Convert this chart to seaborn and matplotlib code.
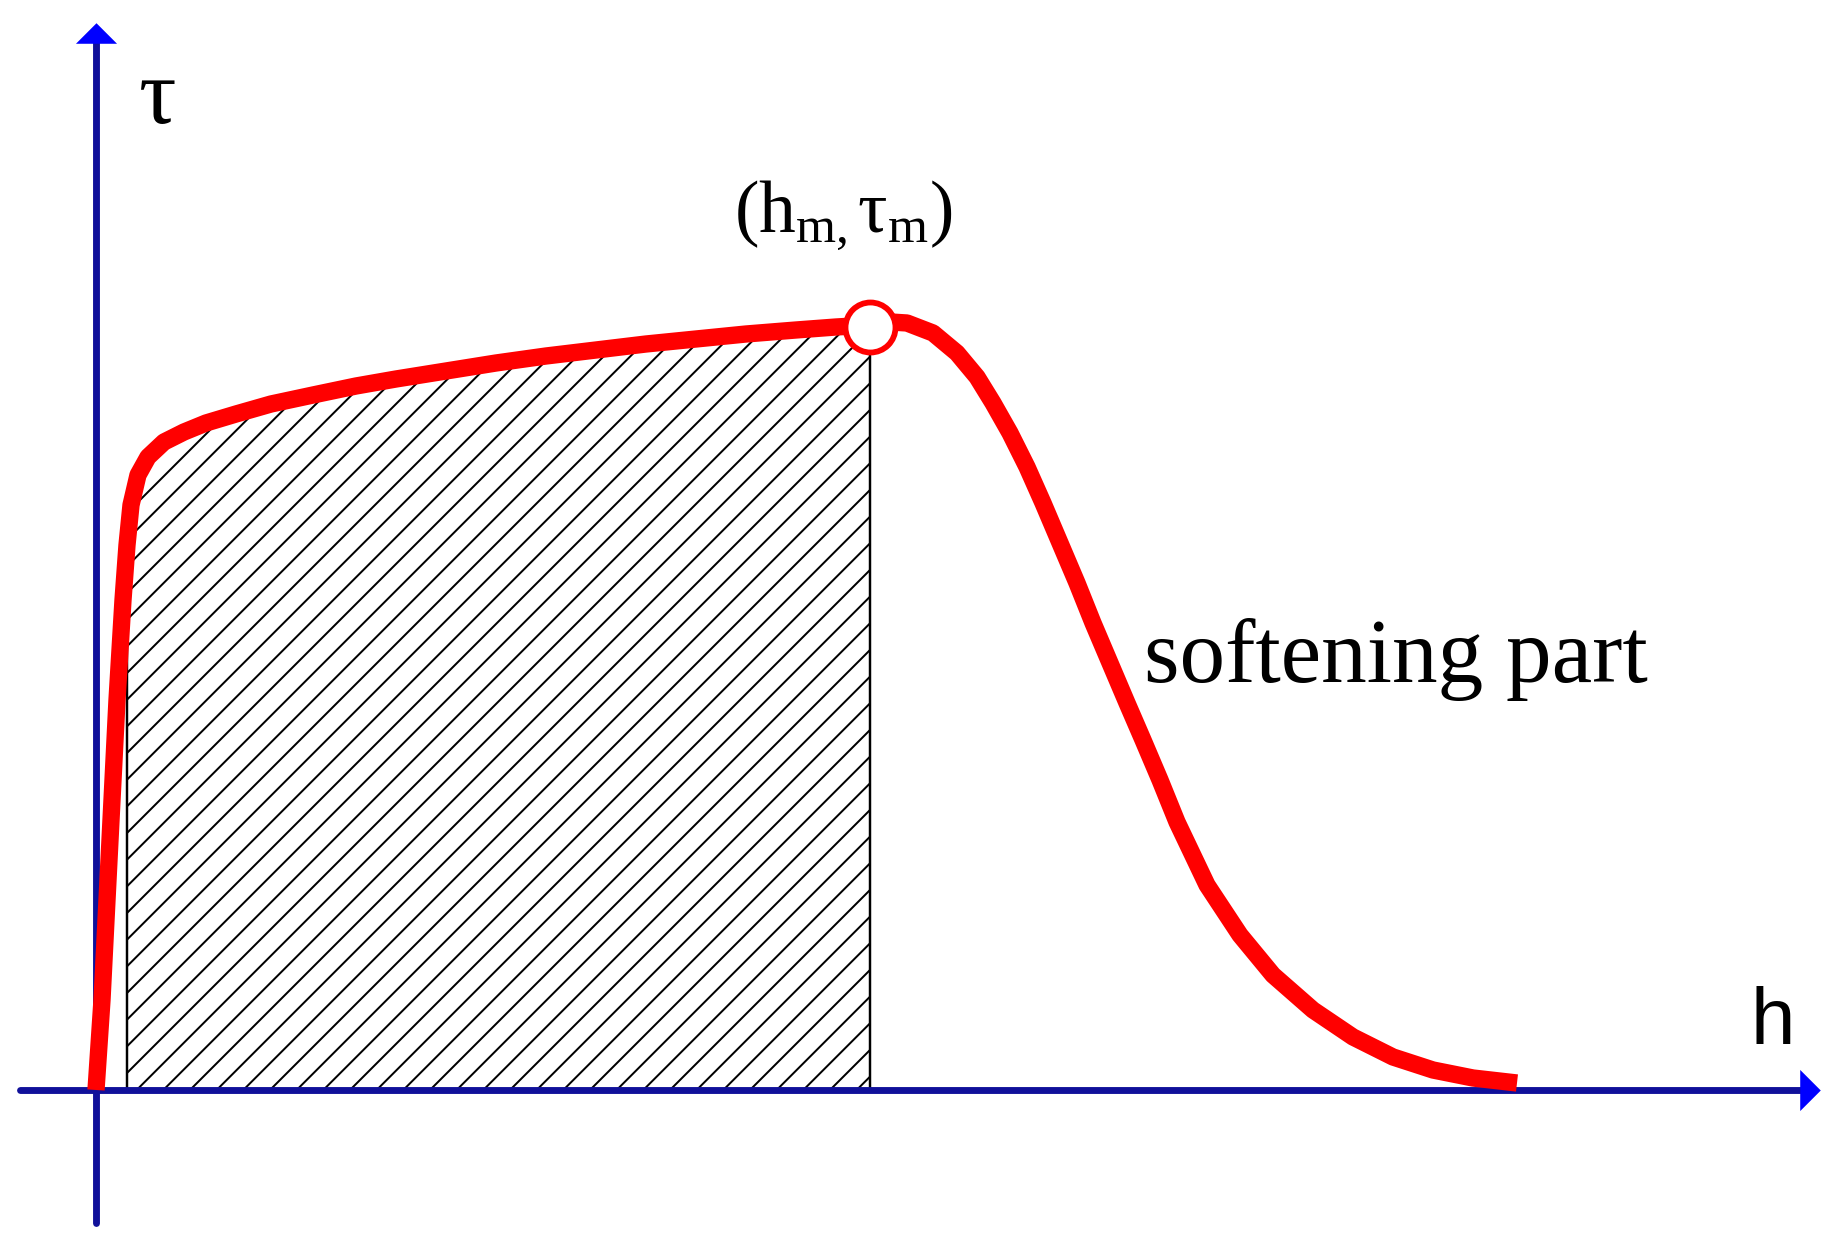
import numpy as np
import matplotlib
matplotlib.use('Agg')
import matplotlib.pyplot as plt
import seaborn as sns

# shear stress - displacement curve (arbitrary units)
h_values = [0.00, 0.06, 0.13, 0.21, 0.27, 0.31, 0.35, 0.42, 0.52, 0.68, 0.88,
            1.10, 1.40, 1.75, 2.17, 2.60, 3.00, 3.50, 4.00, 4.50, 5.00, 5.50,
            6.00, 6.50, 7.00, 7.40, 7.74,
            7.95, 8.11, 8.37, 8.61, 8.81, 8.97, 9.14, 9.31, 9.47, 9.64, 9.81,
            9.97, 10.14, 10.31, 10.47, 10.64, 10.81, 11.11, 11.44, 11.77, 12.17,
            12.57, 12.97, 13.37, 13.77, 14.21]
tau_values = [0.00, 0.90, 2.30, 3.90, 4.90, 5.45, 5.85, 6.15, 6.33, 6.48, 6.58,
              6.67, 6.76, 6.86, 6.95, 7.04, 7.11, 7.19, 7.27, 7.34, 7.40, 7.46,
              7.51, 7.56, 7.60, 7.63, 7.65,
              7.68, 7.67, 7.57, 7.37, 7.13, 6.87, 6.57, 6.23, 5.87, 5.47, 5.07,
              4.67, 4.27, 3.87, 3.50, 3.10, 2.68, 2.05, 1.55, 1.15, 0.80,
              0.53, 0.33, 0.20, 0.12, 0.07]

# peak point and the hatched zone limits
peak_h = 7.74
peak_tau = 7.63
hatch_start = 0.31
hatch_end = 7.74

peak_label = r'$\mathrm{(h_{m,}τ_{m})}$'
softening_label = 'softening part'
x_label = 'h'
y_label = 'τ'

AXIS_BLUE = '#10109a'
HEAD_BLUE = '#0000ff'


def main():
    sns.set_theme(style='white')
    plt.rcParams['mathtext.fontset'] = 'custom'
    plt.rcParams['mathtext.rm'] = 'Liberation Serif'
    plt.rcParams['mathtext.it'] = 'Liberation Serif:italic'
    plt.rcParams['hatch.color'] = 'black'
    plt.rcParams['hatch.linewidth'] = 0.9

    fig = plt.figure(figsize=(11.5, 7.84375), dpi=160)
    ax = fig.add_axes([0, 0, 1, 1])
    ax.set_xlim(-0.96, 17.44)
    ax.set_ylim(-1.65, 10.90)
    ax.set_axis_off()

    h = np.array(h_values)
    tau = np.array(tau_values)

    "hatched area under the curve up to the peak"
    mask = (h >= hatch_start) & (h <= hatch_end)
    ax.fill_between(h[mask], 0, tau[mask], facecolor='none', edgecolor='black',
                    hatch='//', linewidth=1.1, zorder=1)

    "coordinate axes with arrow heads"
    ax.plot([-0.76, 17.09], [0, 0], color=AXIS_BLUE, lw=3.1, zorder=2)
    ax.plot([0, 0], [-1.33, 10.50], color=AXIS_BLUE, lw=3.1, zorder=2)
    ax.plot([0], [10.57], marker=[(-1, -0.5), (1, -0.5), (0, 0.5)], markersize=18.5,
            color=HEAD_BLUE, markeredgewidth=0, zorder=2)
    ax.plot([17.14], [0], marker=[(-0.5, -1), (-0.5, 1), (0.5, 0)], markersize=18.5,
            color=HEAD_BLUE, markeredgewidth=0, zorder=2)

    "the curve itself"
    sns.lineplot(x=h, y=tau, sort=False, estimator=None, color='#ff0000', lw=7.8,
                 ax=ax, zorder=3)
    line = ax.get_lines()[-1]
    line.set_solid_capstyle('butt')
    line.set_solid_joinstyle('round')

    ax.plot([peak_h], [peak_tau], marker='o', markersize=22.5, markerfacecolor='white',
            markeredgecolor='#ff0000', markeredgewidth=2.6, zorder=4)

    "labels"
    ax.text(0.62, 9.90, y_label, fontsize=42, family='Liberation Serif',
            ha='center', va='center', color='black')
    ax.text(16.77, 0.67, x_label, fontsize=36, family='Liberation Sans',
            ha='center', va='center', color='black')
    ax.text(7.47, 8.75, peak_label, fontsize=33, ha='center', va='center', color='black')
    ax.text(10.48, 4.08, softening_label, fontsize=41, family='Liberation Serif',
            ha='left', va='baseline', color='black')

    fig.savefig('out.png', dpi=160, facecolor='white')


if __name__ == '__main__':
    main()
